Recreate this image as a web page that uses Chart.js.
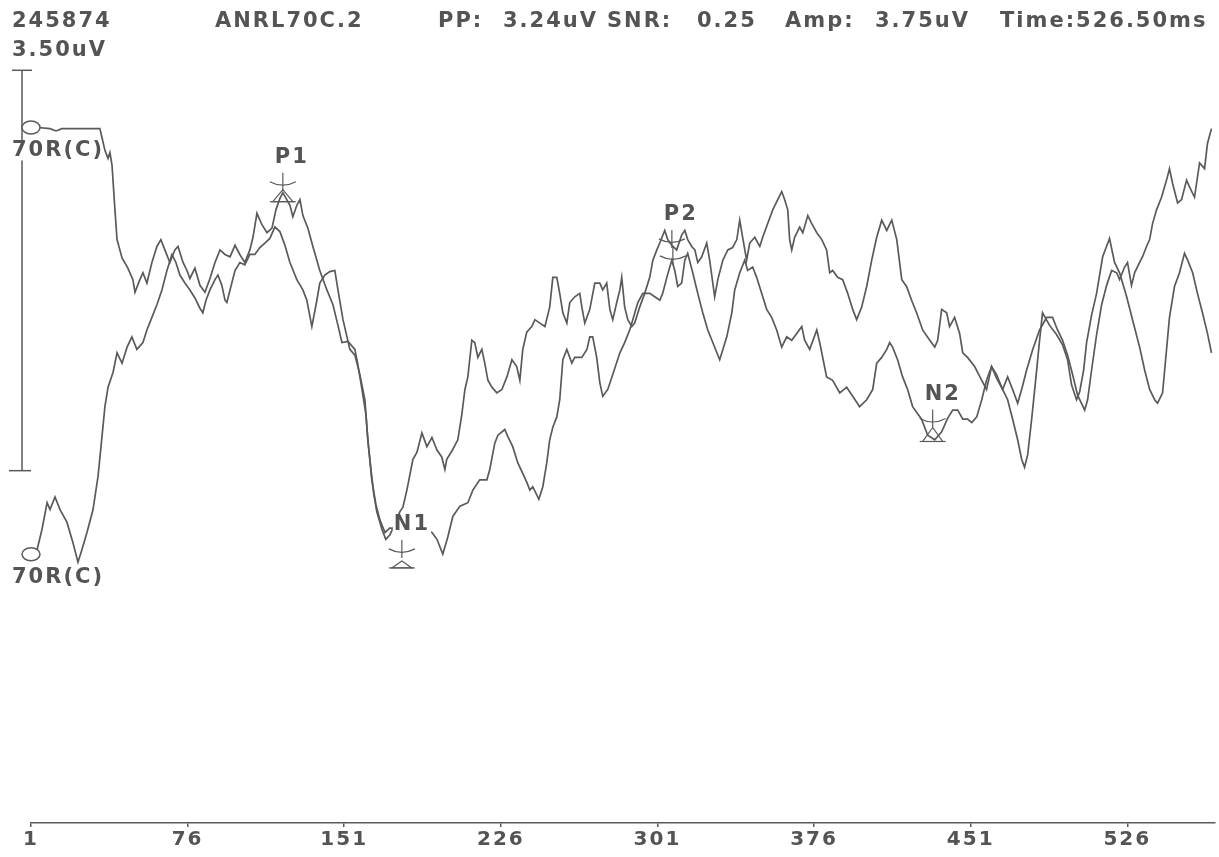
<!DOCTYPE html>
<html>
<head>
<meta charset="utf-8">
<script src="https://cdn.jsdelivr.net/npm/chart.js@4.4.1/dist/chart.umd.min.js"></script>
<style>
  html, body { margin: 0; padding: 0; background: #fff; }
</style>
</head>
<body>
<canvas id="wave" width="1219" height="857"></canvas>
<script>
"use strict";

// ===== waveform (time in ms, amplitude in uV) =====
var timeA = [4.4, 10.1, 13.0, 15.8, 34.0, 35.0, 36.4, 37.9, 38.8, 39.8, 41.2, 42.2, 44.6, 47.4, 49.8, 50.8, 52.7, 54.6, 56.5, 58.9,
  61.3, 63.2, 65.1, 67.5, 69.9, 71.4, 73.8, 75.7, 77.1, 79.5, 81.9, 84.3, 86.7, 89.1, 91.5, 93.9, 96.3, 98.7, 101.0, 103.4,
  105.8, 107.3, 109.2, 111.6, 114.0, 116.4, 118.3, 120.2, 121.6, 123.5, 125.0, 126.4, 128.3, 129.8, 131.2, 133.6, 136.0, 139.3, 142.7, 145.6,
  148.0, 149.9, 152.8, 156.1, 157.5, 159.5, 161.4, 162.3, 163.8, 165.2, 166.6, 169.0, 170.9, 172.9, 175.2, 177.6, 179.1, 181.0, 183.9, 185.8,
  188.2, 190.6, 193.0, 195.4, 197.7, 199.2, 200.1, 202.5, 205.4, 207.3, 208.8, 210.2, 212.1, 213.5, 215.0, 216.9, 218.3, 219.8, 221.7, 224.1,
  226.5, 228.9, 231.3, 233.6, 235.1, 236.5, 238.4, 240.8, 242.3, 244.7, 247.1, 249.4, 250.9, 252.8, 254.2, 255.7, 257.6, 259.0, 261.4, 263.8,
  264.8, 266.2, 268.6, 271.0, 273.4, 274.8, 276.7, 278.2, 279.6, 281.5, 283.0, 283.9, 285.3, 286.8, 288.7, 290.1, 292.5, 294.9, 297.3, 298.8,
  300.7, 302.1, 304.5, 305.9, 307.9, 310.2, 312.6, 314.1, 315.5, 317.4, 318.9, 320.3, 322.2, 324.6, 326.0, 328.4, 329.9, 332.3, 334.7, 337.0,
  339.0, 340.4, 341.8, 343.7, 345.2, 347.6, 350.0, 351.4, 353.8, 356.2, 358.6, 360.5, 361.9, 363.4, 364.3, 365.3, 366.7, 369.1, 370.6, 373.0,
  374.9, 377.3, 379.7, 382.0, 383.5, 384.9, 387.3, 389.7, 392.1, 394.5, 396.4, 398.8, 401.2, 403.6, 406.0, 408.4, 410.8, 413.2, 415.6, 418.0,
  420.3, 422.7, 425.1, 428.0, 431.4, 433.8, 435.2, 437.1, 439.5, 440.9, 443.3, 445.7, 447.2, 449.5, 452.9, 456.3, 458.6, 461.0, 463.4, 466.3,
  468.7, 471.1, 473.5, 475.4, 476.8, 478.3, 480.2, 482.1, 484.0, 485.4, 488.8, 492.1, 495.0, 497.4, 499.3, 501.7, 503.2, 505.1, 506.5, 508.9,
  511.3, 514.2, 517.5, 519.9, 522.3, 525.7, 528.5, 531.9, 534.3, 536.7, 539.1, 540.5, 542.9, 544.8, 546.2, 548.6, 551.0, 553.4, 554.9, 557.3,
  559.6, 562.0, 564.4, 566.3];
var ampA = [3.00, 2.99, 2.97, 2.99, 2.99, 2.91, 2.80, 2.73, 2.78, 2.67, 2.28, 2.02, 1.86, 1.77, 1.67, 1.56, 1.65, 1.73, 1.64, 1.82,
  1.96, 2.02, 1.93, 1.82, 1.93, 1.96, 1.82, 1.75, 1.68, 1.77, 1.62, 1.56, 1.68, 1.82, 1.93, 1.89, 1.87, 1.97, 1.89, 1.82,
  1.93, 2.04, 2.25, 2.15, 2.08, 2.12, 2.28, 2.38, 2.43, 2.37, 2.32, 2.22, 2.32, 2.37, 2.23, 2.12, 1.96, 1.75, 1.58, 1.45,
  1.27, 1.12, 1.13, 1.06, 0.93, 0.71, 0.49, 0.27, 0.01, -0.21, -0.36, -0.51, -0.60, -0.56, -0.47, -0.36, -0.32, -0.17, 0.10, 0.16,
  0.33, 0.21, 0.29, 0.18, 0.12, 0.01, 0.10, 0.17, 0.27, 0.49, 0.71, 0.82, 1.14, 1.12, 0.99, 1.06, 0.94, 0.79, 0.73, 0.68,
  0.71, 0.82, 0.97, 0.91, 0.79, 1.06, 1.21, 1.26, 1.32, 1.29, 1.26, 1.43, 1.69, 1.69, 1.55, 1.38, 1.29, 1.47, 1.52, 1.55,
  1.43, 1.29, 1.41, 1.64, 1.64, 1.58, 1.64, 1.41, 1.32, 1.47, 1.58, 1.69, 1.43, 1.32, 1.26, 1.29, 1.43, 1.55, 1.69, 1.84,
  1.93, 1.99, 2.10, 2.02, 1.97, 1.93, 2.06, 2.10, 2.02, 1.96, 1.93, 1.82, 1.87, 1.99, 1.84, 1.52, 1.67, 1.84, 1.93, 1.95,
  2.02, 2.19, 2.04, 1.84, 1.99, 2.04, 1.96, 2.04, 2.16, 2.28, 2.37, 2.44, 2.37, 2.28, 2.02, 1.93, 2.04, 2.13, 2.08, 2.23,
  2.16, 2.08, 2.02, 1.93, 1.73, 1.75, 1.69, 1.67, 1.55, 1.41, 1.32, 1.43, 1.61, 1.84, 2.04, 2.19, 2.10, 2.19, 2.02, 1.67,
  1.61, 1.49, 1.38, 1.23, 1.14, 1.08, 1.14, 1.41, 1.38, 1.26, 1.34, 1.20, 1.03, 0.99, 0.91, 0.79, 0.71, 0.91, 0.84, 0.71,
  0.62, 0.45, 0.27, 0.10, 0.03, 0.14, 0.45, 0.79, 1.14, 1.38, 1.27, 1.19, 1.10, 0.97, 0.75, 0.62, 0.69, 0.88, 1.12, 1.36,
  1.55, 1.87, 2.03, 1.82, 1.73, 1.52, 1.32, 1.08, 0.88, 0.71, 0.62, 0.59, 0.68, 1.06, 1.34, 1.61, 1.73, 1.90, 1.84, 1.73,
  1.55, 1.38, 1.20, 1.03];

var timeB = [3.4, 6.3, 8.7, 10.1, 12.5, 14.9, 18.2, 21.1, 23.5, 25.4, 27.8, 30.7, 33.1, 35.0, 36.4, 37.9, 40.3, 42.2, 44.6, 47.0,
  49.3, 51.7, 54.6, 56.5, 58.9, 61.3, 63.7, 66.1, 68.5, 70.4, 72.3, 74.7, 77.1, 79.5, 81.9, 83.3, 84.8, 86.7, 89.1, 90.5,
  92.4, 93.9, 94.8, 96.3, 98.7, 101.0, 103.4, 105.8, 108.2, 110.6, 113.0, 115.4, 117.8, 120.2, 122.6, 125.0, 128.3, 131.2, 133.1, 135.5,
  137.9, 139.3, 141.7, 144.1, 146.5, 148.0, 150.4, 153.7, 156.1, 158.5, 160.9, 162.3, 164.2, 166.2, 168.1, 170.5, 172.9, 175.2, 180.0, 184.8,
  189.6, 193.0, 195.4, 198.2, 200.6, 203.0, 206.4, 210.2, 212.6, 215.9, 219.3, 220.7, 223.1, 224.6, 227.9, 229.3, 231.7, 234.1, 238.4, 239.9,
  241.3, 244.2, 246.1, 248.0, 249.4, 250.9, 252.8, 254.2, 255.7, 257.6, 260.0, 261.4, 264.8, 267.2, 268.6, 270.0, 271.9, 273.4, 274.8, 277.2,
  279.6, 283.0, 285.3, 287.7, 289.2, 291.6, 294.0, 297.3, 299.7, 302.1, 303.5, 305.5, 306.9, 307.9, 309.3, 310.7, 312.6, 314.1, 315.5, 317.9,
  320.3, 322.7, 325.1, 327.5, 330.8, 334.2, 336.6, 338.0, 340.4, 342.8, 344.2, 346.6, 348.5, 350.9, 353.3, 355.7, 358.1, 360.5, 362.9, 365.3,
  367.7, 370.1, 371.5, 373.9, 377.3, 378.7, 382.0, 384.9, 388.3, 391.6, 394.5, 397.8, 401.2, 404.1, 406.0, 408.4, 410.8, 412.2, 413.6, 416.0,
  418.4, 420.8, 423.2, 425.1, 427.5, 430.4, 433.8, 437.1, 440.0, 442.4, 444.8, 447.2, 449.5, 451.5, 453.9, 456.3, 458.6, 461.0, 463.4, 466.3,
  468.7, 471.1, 473.5, 475.4, 477.8, 480.7, 484.0, 487.4, 490.2, 492.6, 495.0, 497.4, 499.8, 502.2, 505.6, 507.0, 508.9, 511.3, 513.7, 516.1,
  518.5, 520.9, 522.3, 524.7, 526.1, 528.0, 529.5, 531.9, 533.3, 535.2, 536.7, 538.1, 540.0, 542.4, 544.8, 546.2, 547.7, 550.1, 552.0, 554.4,
  555.8, 558.2, 560.6, 563.0, 564.4, 566.3];
var ampB = [-0.73, -0.51, -0.28, -0.34, -0.23, -0.34, -0.45, -0.63, -0.80, -0.69, -0.54, -0.34, -0.05, 0.30, 0.56, 0.73, 0.86, 1.03, 0.94, 1.08,
  1.17, 1.06, 1.12, 1.23, 1.34, 1.45, 1.58, 1.75, 1.89, 1.82, 1.71, 1.64, 1.58, 1.51, 1.42, 1.38, 1.49, 1.58, 1.67, 1.71,
  1.62, 1.49, 1.47, 1.58, 1.75, 1.82, 1.80, 1.89, 1.89, 1.95, 1.99, 2.03, 2.13, 2.09, 1.97, 1.82, 1.67, 1.58, 1.49, 1.26,
  1.49, 1.64, 1.71, 1.74, 1.75, 1.58, 1.32, 1.06, 1.01, 0.84, 0.62, 0.27, -0.08, -0.30, -0.43, -0.54, -0.50, -0.51, -0.52, -0.52,
  -0.52, -0.54, -0.60, -0.73, -0.58, -0.40, -0.31, -0.28, -0.17, -0.08, -0.08, 0.01, 0.24, 0.31, 0.36, 0.30, 0.21, 0.07, -0.10, -0.17,
  -0.14, -0.25, -0.14, 0.07, 0.27, 0.38, 0.47, 0.62, 0.97, 1.06, 0.94, 0.99, 0.99, 1.06, 1.17, 1.17, 0.99, 0.77, 0.65, 0.71,
  0.84, 1.03, 1.12, 1.23, 1.32, 1.47, 1.55, 1.55, 1.52, 1.49, 1.55, 1.69, 1.78, 1.84, 1.75, 1.61, 1.64, 1.84, 1.90, 1.73,
  1.55, 1.38, 1.23, 1.12, 0.97, 1.17, 1.38, 1.58, 1.73, 1.84, 1.75, 1.78, 1.69, 1.55, 1.41, 1.34, 1.23, 1.08, 1.17, 1.14,
  1.20, 1.26, 1.14, 1.06, 1.23, 1.12, 0.82, 0.79, 0.68, 0.73, 0.65, 0.56, 0.62, 0.71, 0.94, 0.99, 1.06, 1.12, 1.08, 0.97,
  0.82, 0.71, 0.56, 0.51, 0.45, 0.31, 0.27, 0.34, 0.46, 0.53, 0.53, 0.45, 0.45, 0.42, 0.47, 0.62, 0.79, 0.91, 0.81, 0.71,
  0.82, 0.71, 0.59, 0.71, 0.88, 1.06, 1.23, 1.34, 1.34, 1.23, 1.14, 1.01, 0.84, 0.66, 0.53, 0.62, 0.88, 1.19, 1.45, 1.62,
  1.75, 1.73, 1.67, 1.78, 1.82, 1.62, 1.73, 1.82, 1.87, 1.96, 2.02, 2.16, 2.28, 2.39, 2.54, 2.64, 2.51, 2.34, 2.37, 2.54,
  2.48, 2.39, 2.69, 2.64, 2.86, 2.99];

var xTicks = [1, 76, 151, 226, 301, 376, 451, 526];
var headerParts = ["245874", "ANRL70C.2", "PP:", "3.24uV", "SNR:", "0.25", "Amp:", "3.75uV", "Time:526.50ms"];
var scaleBarUv = 3.5;
var scaleBarText = "3.50uV";
var channelName = "70R(C)";

// peak marks: name, latency (ms), amplitude of the cross (uV)
var peakNames = ["P1", "N1", "P2", "N2"];
var peakTimes = [121.6, 178.6, 307.9, 432.8];
var peakAmps = [2.50, -0.71, 2.00, 0.43];

// ===== drawing =====
var INK = "#5a5a5a";
var TEXT = "#545454";
var FONT = 'bold 21px "DejaVu Sans"';
var SPACING = "2px";

function toPoints(ts, vs) {
  return ts.map(function (t, i) { return { x: t, y: vs[i] }; });
}

function seg(c, x1, y1, x2, y2) {
  c.beginPath();
  c.moveTo(x1, y1);
  c.lineTo(x2, y2);
  c.stroke();
}

// text on a white patch; boxW limits the patch when the text must not hide a trace
function labelBox(c, text, x, y, boxW) {
  var w = boxW || c.measureText(text).width;
  c.fillStyle = "#fff";
  c.fillRect(x - 1, y - 10, w + 2, 20);
  c.fillStyle = TEXT;
  c.fillText(text, x, y);
}

function crossMark(c, x, y) {
  seg(c, x, y - 12, x, y + 6);
  c.beginPath();
  c.moveTo(x - 13, y - 3);
  c.quadraticCurveTo(x, y + 4, x + 13, y - 3);
  c.stroke();
}

function triMark(c, x, y, h) {
  c.beginPath();
  c.moveTo(x, y);
  c.lineTo(x - 10, y + h);
  c.lineTo(x + 10, y + h);
  c.closePath();
  c.stroke();
  seg(c, x - 13, y + h, x + 13, y + h);
}

var overlay = {
  id: "overlay",
  beforeDraw: function (chart) {
    // wide bitmap-like lettering for the axis labels too
    chart.ctx.letterSpacing = SPACING;
  },
  afterDatasetsDraw: function (chart) {
    var c = chart.ctx;
    var xs = chart.scales.x;
    var ys = chart.scales.y;
    c.save();
    c.font = FONT;
    c.textBaseline = "middle";
    c.letterSpacing = SPACING;
    c.strokeStyle = INK;
    c.fillStyle = TEXT;
    c.lineWidth = 1.5;

    // top line of text
    var hx = [12, 215, 438, 503, 607, 697, 785, 875, 1000];
    headerParts.forEach(function (t, i) { c.fillText(t, hx[i], 22); });

    // amplitude scale bar
    var yTop = ys.getPixelForValue(scaleBarUv);
    var yBot = ys.getPixelForValue(0);
    c.fillText(scaleBarText, 12, yTop - 20);
    seg(c, 22, yTop, 22, yBot);
    seg(c, 12, yTop, 32, yTop);
    seg(c, 9, yBot, 31, yBot);

    // channel start circles and names
    [ampA[0], ampB[0]].forEach(function (v) {
      var cy = ys.getPixelForValue(v);
      var cx = xs.getPixelForValue(1);
      c.beginPath();
      c.ellipse(cx, cy, 9, 6.5, 0, 0, Math.PI * 2);
      c.fillStyle = "#fff";
      c.fill();
      c.stroke();
      labelBox(c, channelName, 12, cy + 23, 30);
    });

    // peak marks
    c.lineWidth = 1.2;
    peakNames.forEach(function (name, i) {
      var px = xs.getPixelForValue(peakTimes[i]);
      var py = ys.getPixelForValue(peakAmps[i]);
      crossMark(c, px, py);
      if (name === "P1") triMark(c, px, py + 5, 12);
      if (name === "N1") triMark(c, px, py + 9, 7);
      if (name === "N2") triMark(c, px, py + 6, 14);
      if (name === "P2") crossMark(c, px + 1, py + 17);
      labelBox(c, name, px - 8, py - 27);
    });
    c.restore();
  }
};

new Chart(document.getElementById("wave"), {
  type: "line",
  data: {
    datasets: [
      { data: toPoints(timeA, ampA), borderColor: INK, borderWidth: 1.7, pointRadius: 0, tension: 0 },
      { data: toPoints(timeB, ampB), borderColor: INK, borderWidth: 1.7, pointRadius: 0, tension: 0 }
    ]
  },
  options: {
    responsive: false,
    animation: false,
    devicePixelRatio: 1,
    layout: { padding: { left: 31, right: 4, top: 60, bottom: 4 } },
    plugins: { legend: { display: false }, tooltip: { enabled: false } },
    scales: {
      x: {
        type: "linear",
        min: 1,
        max: 568,
        afterBuildTicks: function (s) { s.ticks = xTicks.map(function (v) { return { value: v }; }); },
        ticks: {
          autoSkip: false,
          maxRotation: 0,
          padding: 1,
          color: TEXT,
          font: { family: "DejaVu Sans", size: 20, weight: "bold" }
        },
        grid: { drawOnChartArea: false, drawTicks: true, tickLength: 4, color: INK, lineWidth: 1.5 },
        border: { display: true, color: INK, width: 1.5 }
      },
      y: { display: false, min: -3.08, max: 3.59 }
    }
  },
  plugins: [overlay]
});
</script>
</body>
</html>
